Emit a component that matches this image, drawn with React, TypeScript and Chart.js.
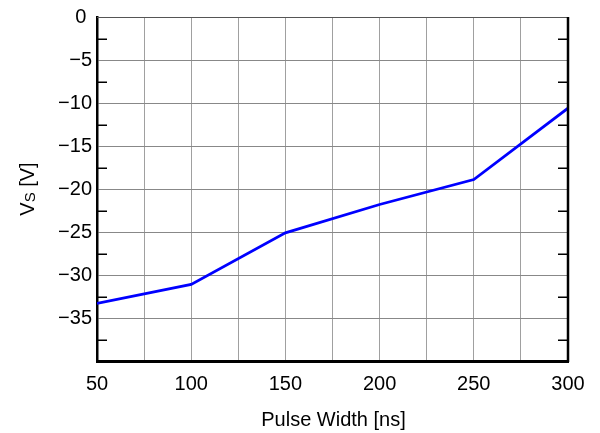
import React, { useEffect, useRef } from "react";
import { Chart, registerables } from "chart.js";

Chart.register(...registerables);

const pulseWidths = [50, 100, 150, 200, 250, 300];
const vsValues = [-33.3, -31.1, -25.1, -21.8, -18.9, -10.6];
const xTickLabels = [50, 100, 150, 200, 250, 300];
const yTickLabels = [0, -5, -10, -15, -20, -25, -30, -35];
const minorYTicks = [-2.5, -7.5, -12.5, -17.5, -22.5, -27.5, -32.5, -37.5];
const xTitle = "Pulse Width [ns]";
const yTitleMain = "V";
const yTitleSub = "S";
const yTitleRest = " [V]";

const FONT = "'Liberation Sans', Arial, Helvetica, sans-serif";

const framePlugin = {
  id: "frame",
  afterDraw(chart: any) {
    const ctx = chart.ctx;
    const a = chart.chartArea;
    const y = chart.scales.y;
    ctx.save();
    ctx.strokeStyle = "#555";
    ctx.lineWidth = 1;
    ctx.beginPath();
    ctx.moveTo(a.left, a.top + 0.5);
    ctx.lineTo(a.right, a.top + 0.5);
    ctx.stroke();
    ctx.strokeStyle = "#000";
    ctx.lineWidth = 2.5;
    ctx.beginPath();
    ctx.moveTo(a.right, a.top);
    ctx.lineTo(a.right, a.bottom + 1);
    ctx.stroke();
    ctx.lineWidth = 1.5;
    minorYTicks.forEach((v) => {
      const py = Math.round(y.getPixelForValue(v)) + 0.25;
      ctx.beginPath();
      ctx.moveTo(a.left, py);
      ctx.lineTo(a.left + 10, py);
      ctx.moveTo(a.right, py);
      ctx.lineTo(a.right - 10, py);
      ctx.stroke();
    });
    ctx.fillStyle = "#000";
    ctx.font = `20px ${FONT}`;
    ctx.textAlign = "center";
    ctx.textBaseline = "alphabetic";
    ctx.fillText(xTitle, (a.left + a.right) / 2 + 1, 425.5);
    ctx.translate(34, (a.top + a.bottom) / 2);
    ctx.rotate(-Math.PI / 2);
    ctx.textAlign = "left";
    const mainFont = `20px ${FONT}`;
    const subFont = `15px ${FONT}`;
    ctx.font = mainFont;
    const w1 = ctx.measureText(yTitleMain).width;
    ctx.font = subFont;
    const w2 = ctx.measureText(yTitleSub).width;
    ctx.font = mainFont;
    const w3 = ctx.measureText(yTitleRest).width;
    let x0 = -(w1 + w2 + w3) / 2;
    ctx.fillText(yTitleMain, x0, 0);
    x0 += w1;
    ctx.font = subFont;
    ctx.fillText(yTitleSub, x0, 1);
    x0 += w2;
    ctx.font = mainFont;
    ctx.fillText(yTitleRest, x0, 0);
    ctx.restore();
  },
};

export default function App() {
  const ref = useRef<HTMLCanvasElement>(null);

  useEffect(() => {
    if (!ref.current) return;
    const chart = new Chart(ref.current, {
      type: "line",
      data: {
        datasets: [
          {
            data: pulseWidths.map((x, i) => ({ x, y: vsValues[i] })),
            borderColor: "#0000ff",
            borderWidth: 2.8,
            pointRadius: 0,
            tension: 0,
            fill: false,
          },
        ],
      },
      options: {
        animation: false,
        responsive: false,
        events: [],
        layout: { padding: { top: 15, right: 32, left: 0, bottom: 0 } },
        plugins: {
          legend: { display: false },
          tooltip: { enabled: false },
        },
        scales: {
          x: {
            type: "linear",
            min: 50,
            max: 300,
            afterFit: (s: any) => {
              s.height = 72;
            },
            ticks: {
              stepSize: 25,
              autoSkip: false,
              maxRotation: 0,
              padding: 11,
              color: "#000",
              font: { family: FONT, size: 20 },
              callback: (v: any) =>
                xTickLabels.includes(Number(v)) ? String(v) : "",
            },
            grid: {
              color: "#a0a0a0",
              lineWidth: 1,
              drawTicks: false,
            },
            border: { display: true, color: "#000", width: 3 },
          },
          y: {
            type: "linear",
            min: -40,
            max: 0,
            afterFit: (s: any) => {
              s.width = 97;
            },
            ticks: {
              stepSize: 5,
              autoSkip: false,
              padding: 5,
              color: "#000",
              font: { family: FONT, size: 20 },
              callback: (v: any) => {
                const n = Number(v);
                if (!yTickLabels.includes(n)) return "";
                if (n === 0) return "0 ";
                return "\u2212" + Math.abs(n);
              },
            },
            grid: {
              color: "#888",
              lineWidth: 1,
              drawTicks: false,
            },
            border: { display: true, color: "#000", width: 2.5 },
          },
        },
      },
      plugins: [framePlugin],
    });
    return () => chart.destroy();
  }, []);

  return (
    <div style={{ position: "fixed", left: 0, top: 0, width: 600, height: 433, background: "#fff" }}>
      <canvas ref={ref} width={600} height={433} style={{ display: "block" }} />
    </div>
  );
}
